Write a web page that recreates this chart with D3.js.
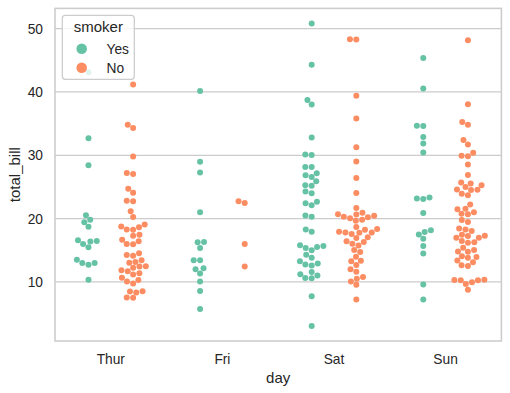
<!DOCTYPE html>
<html>
<head>
<meta charset="utf-8">
<script src="https://cdn.jsdelivr.net/npm/d3@7"></script>
<style>
  html, body { margin: 0; padding: 0; background: #fff; }
  svg { display: block; font-family: "Liberation Sans", Arial, sans-serif; }
</style>
</head>
<body>
<svg id="chart" width="510" height="393"></svg>
<script>
// ---- data (total_bill by day and smoker) ----
const days = ["Thur", "Fri", "Sat", "Sun"];
const smokerLevels = ["Yes", "No"];
const yTicks = [10, 20, 30, 40, 50];

const thurYes = [19.44, 32.68, 16.0, 19.81, 28.44, 15.48, 16.58, 10.34, 43.11, 13.0, 13.51, 18.71, 12.74, 13.0, 16.4, 20.53, 16.47];
const thurNo = [27.2, 22.76, 17.29, 16.66, 10.07, 15.98, 34.83, 13.03, 18.28, 24.71, 21.16, 10.65, 12.43, 24.08, 11.69, 13.42, 14.26, 15.95, 12.48, 29.8, 8.52, 14.52, 11.38, 22.82, 19.08, 20.27, 11.17, 12.26, 18.26, 8.51, 10.33, 14.15, 13.16, 17.47, 34.3, 41.19, 27.05, 16.43, 8.35, 18.64, 11.87, 9.78, 7.51, 7.56, 18.78];
const friYes = [28.97, 5.75, 16.32, 40.17, 27.28, 12.03, 21.01, 11.35, 15.38, 12.16, 13.42, 8.58, 13.42, 16.27, 10.09];
const friNo = [22.49, 22.75, 12.46, 15.98];
const satYes = [38.01, 11.24, 20.29, 13.81, 11.02, 18.29, 3.07, 15.01, 26.86, 25.28, 17.92, 44.3, 22.42, 15.36, 20.49, 25.21, 14.31, 10.59, 10.63, 50.81, 15.81, 26.59, 38.73, 24.27, 12.76, 30.06, 25.89, 13.27, 28.17, 12.9, 28.15, 11.59, 7.74, 30.14, 22.12, 24.01, 15.69, 15.53, 12.6, 32.83, 27.18, 22.67];
const satNo = [20.65, 17.92, 20.29, 15.77, 39.42, 19.82, 17.81, 13.37, 12.69, 21.7, 19.65, 9.55, 18.35, 15.06, 20.69, 17.78, 24.06, 16.31, 16.93, 18.69, 31.27, 16.04, 26.41, 48.27, 17.59, 20.08, 16.45, 20.23, 12.02, 17.07, 14.73, 10.51, 20.92, 18.24, 14.0, 7.25, 48.33, 20.45, 13.28, 11.61, 10.77, 10.07, 35.83, 29.03, 17.82];
const sunYes = [17.51, 7.25, 31.85, 16.82, 32.9, 17.89, 14.48, 9.6, 34.63, 34.65, 23.33, 45.35, 23.17, 40.55, 20.9, 30.46, 18.15, 23.1, 15.69];
const sunNo = [16.99, 10.34, 21.01, 23.68, 24.59, 25.29, 8.77, 26.88, 15.04, 14.78, 10.27, 35.26, 15.42, 18.43, 14.83, 21.58, 10.33, 16.29, 16.97, 17.46, 13.94, 9.68, 30.4, 18.29, 22.23, 32.4, 28.55, 18.04, 12.54, 10.29, 34.81, 9.94, 25.56, 19.49, 38.07, 23.95, 25.71, 17.31, 29.93, 14.07, 13.13, 17.26, 24.55, 19.77, 29.85, 48.17, 25.0, 13.39, 16.49, 21.5, 12.66, 16.21, 13.81, 24.52, 20.76, 31.71, 20.69];

const groups = [
  { day: "Thur", smoker: "Yes", values: thurYes },
  { day: "Thur", smoker: "No",  values: thurNo },
  { day: "Fri",  smoker: "Yes", values: friYes },
  { day: "Fri",  smoker: "No",  values: friNo },
  { day: "Sat",  smoker: "Yes", values: satYes },
  { day: "Sat",  smoker: "No",  values: satNo },
  { day: "Sun",  smoker: "Yes", values: sunYes },
  { day: "Sun",  smoker: "No",  values: sunNo }
];

// ---- layout ----
const L = 55, R = 501.4, T = 8.4, B = 341;
const textColor = "#262626";
const gridColor = "#cccccc";
const colors = { Yes: "#66c2a5", No: "#fc8d62" };
const dotR = 3.0;

const allVals = groups.flatMap(g => g.values);
const vmin = d3.min(allVals), vmax = d3.max(allVals);
const pad = (vmax - vmin) * 0.05;

const x = d3.scaleBand().domain(days).range([L, R]).padding(0);
const hue = d3.scaleBand().domain(smokerLevels).range([-0.4, 0.4]).padding(0);
const y = d3.scaleLinear().domain([vmin - pad, vmax + pad]).range([B, T]);

const svg = d3.select("#chart");

// grid
svg.append("g").selectAll("line").data(yTicks).join("line")
  .attr("x1", L).attr("x2", R)
  .attr("y1", d => y(d)).attr("y2", d => y(d))
  .attr("stroke", gridColor).attr("stroke-width", 1.25);

// beeswarm (seaborn-like)
function swarm(values, cx, r, halfWidth) {
  const pts = values.map((v, i) => ({ v, i, yd: -y(v) }));
  const order = pts.slice().sort((a, b) => a.v - b.v || a.i - b.i);
  const placed = [];
  const d2 = (2 * r) * (2 * r);
  order.forEach((p, k) => {
    if (k === 0) { p.x = cx; placed.push(p); return; }
    const neighbors = [];
    for (let j = placed.length - 1; j >= 0; j--) {
      if (p.yd - placed[j].yd < 2 * r) neighbors.unshift(placed[j]);
      else break;
    }
    const cands = [cx];
    let leftFirst = true;
    neighbors.forEach(n => {
      const dy = p.yd - n.yd;
      const dx = Math.sqrt(Math.max(d2 - dy * dy, 0)) * 1.05;
      const cl = n.x - dx, cr = n.x + dx;
      if (leftFirst) cands.push(cl, cr); else cands.push(cr, cl);
      leftFirst = !leftFirst;
    });
    const idx = cands.map((c, i) => i).sort((a, b) =>
      (Math.abs(cands[a] - cx) - Math.abs(cands[b] - cx)) || (a - b));
    let chosen = cands[idx[0]];
    if (neighbors.length) {
      for (const i of idx) {
        const cxi = cands[i];
        const ok = neighbors.every(n => {
          const dx = n.x - cxi, dy = n.yd - p.yd;
          return dx * dx + dy * dy >= d2 - 1e-9;
        });
        if (ok) { chosen = cxi; break; }
      }
    }
    p.x = chosen;
    placed.push(p);
  });
  pts.forEach(p => {
    p.x = Math.max(cx - halfWidth, Math.min(cx + halfWidth, p.x));
  });
  return pts;
}

const bw = x.bandwidth();
const dotsG = svg.append("g");
groups.forEach(g => {
  const cx = x(g.day) + bw / 2 + (hue(g.smoker) + hue.bandwidth() / 2) * bw;
  const pts = swarm(g.values, cx, dotR + 0.05, 0.2 * bw);
  dotsG.append("g").selectAll("circle").data(pts).join("circle")
    .attr("cx", d => d.x)
    .attr("cy", d => y(d.v))
    .attr("r", dotR)
    .attr("fill", colors[g.smoker]);
});

// frame (spines)
svg.append("rect")
  .attr("x", L).attr("y", T).attr("width", R - L).attr("height", B - T)
  .attr("fill", "none").attr("stroke", gridColor).attr("stroke-width", 1.56);

// x tick labels
svg.append("g").selectAll("text").data(days).join("text")
  .attr("x", d => x(d) + bw / 2)
  .attr("y", 363.5)
  .attr("text-anchor", "middle")
  .attr("font-size", 13.75)
  .attr("fill", textColor)
  .text(d => d);

// y tick labels
svg.append("g").selectAll("text").data(yTicks).join("text")
  .attr("x", 43)
  .attr("y", d => y(d))
  .attr("dy", "0.36em")
  .attr("text-anchor", "end")
  .attr("font-size", 13.75)
  .attr("fill", textColor)
  .text(d => d);

// axis labels
svg.append("text")
  .attr("x", (L + R) / 2).attr("y", 382.5)
  .attr("text-anchor", "middle")
  .attr("font-size", 15).attr("fill", textColor)
  .text("day");
svg.append("text")
  .attr("transform", `translate(19.5,${(T + B) / 2}) rotate(-90)`)
  .attr("text-anchor", "middle")
  .attr("font-size", 15).attr("fill", textColor)
  .text("total_bill");

// legend
const lg = svg.append("g");
lg.append("rect")
  .attr("x", 62.3).attr("y", 15.3).attr("width", 72).attr("height", 64)
  .attr("rx", 3).attr("ry", 3)
  .attr("fill", "white").attr("fill-opacity", 0.8)
  .attr("stroke", gridColor).attr("stroke-width", 1.25);
lg.append("text")
  .attr("x", 98.3).attr("y", 32.2)
  .attr("text-anchor", "middle")
  .attr("font-size", 15).attr("fill", textColor)
  .text("smoker");
smokerLevels.forEach((s, i) => {
  const cy = 48.7 + i * 19;
  lg.append("circle").attr("cx", 81.7).attr("cy", cy).attr("r", 5.3).attr("fill", colors[s]);
  lg.append("text")
    .attr("x", 106.5).attr("y", cy).attr("dy", "0.36em")
    .attr("font-size", 13.75).attr("fill", textColor)
    .text(s);
});
</script>
</body>
</html>
